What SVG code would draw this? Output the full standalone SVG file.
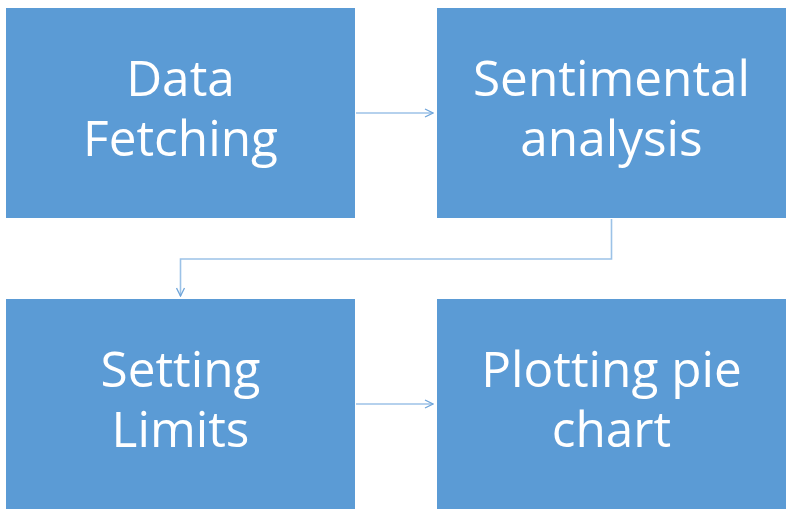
<svg xmlns="http://www.w3.org/2000/svg" width="795" height="519" viewBox="0 0 795 519">
<style>
.box{fill:#5B9BD5}
.lbl{font-family:"Open Sans","Liberation Sans",sans-serif;font-size:49.5px;fill:#FFFFFF;text-anchor:middle}
.conn{fill:none;stroke:#9CC2E7;stroke-width:1.6}
</style>
<defs>
<marker id="arr" viewBox="0 0 10 10" refX="9" refY="5" markerWidth="10" markerHeight="10" markerUnits="userSpaceOnUse" orient="auto">
<path d="M1,1 L9,5 L1,9" fill="none" stroke="#6FA5DA" stroke-width="1.3"/>
</marker>
</defs>
<rect width="795" height="519" fill="#FFFFFF"/>
<g id="node-data-fetching">
<rect class="box" x="6" y="8" width="349" height="210"/>
<text class="lbl" x="180.5" y="96">Data</text>
<text class="lbl" x="180.5" y="156">Fetching</text>
</g>
<g id="node-sentimental-analysis">
<rect class="box" x="437" y="8" width="349" height="210"/>
<text class="lbl" x="611.5" y="96">Sentimental</text>
<text class="lbl" x="611.5" y="156">analysis</text>
</g>
<g id="node-setting-limits">
<rect class="box" x="6" y="299" width="349" height="210"/>
<text class="lbl" x="180.5" y="387">Setting</text>
<text class="lbl" x="180.5" y="447">Limits</text>
</g>
<g id="node-plotting-pie-chart">
<rect class="box" x="437" y="299" width="349" height="210"/>
<text class="lbl" x="611.5" y="387">Plotting pie</text>
<text class="lbl" x="611.5" y="447">chart</text>
</g>
<g id="connectors">
<path class="conn" d="M356,113 H433" marker-end="url(#arr)"/>
<path class="conn" d="M611.5,219 V259 H180.5 V296" marker-end="url(#arr)"/>
<path class="conn" d="M356,404 H433" marker-end="url(#arr)"/>
</g>
</svg>
